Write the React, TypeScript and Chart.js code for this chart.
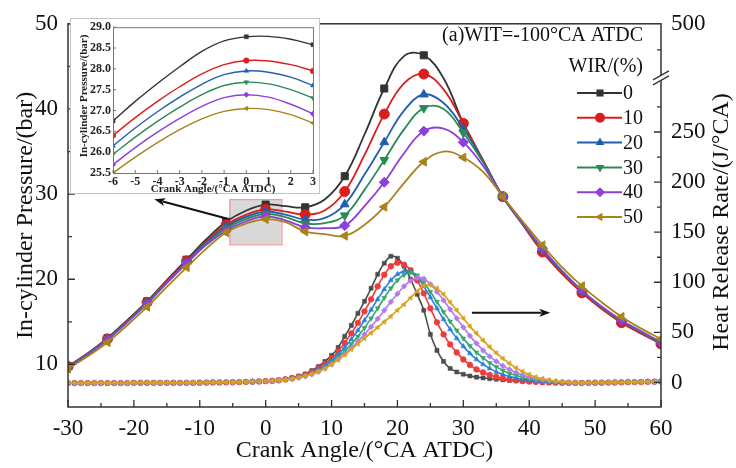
import React, { useEffect, useRef } from 'react';
import { Chart, registerables } from 'chart.js';

Chart.register(...registerables);

const FONT = "'Liberation Serif', 'Times New Roman', Times, serif";

// ---------- categories / ticks ----------
const wirLabels = ['0', '10', '20', '30', '40', '50'];
const xTickValues = [-30, -20, -10, 0, 10, 20, 30, 40, 50, 60];
const xMinorTicks = [-25, -15, -5, 5, 15, 25, 35, 45, 55];
const leftTickValues = [10, 20, 30, 40, 50];
const leftMinorTicks = [15, 25, 35, 45];
const rightTickValues = [0, 50, 100, 150, 200, 250];
const rightMinorTicks = [25, 75, 125, 175, 225, 275, 332];
const rightAxisTop = 358; // broken axis: top of the right axis stands for 500
const rightTopLabel = '500';
const rightBreakValue = 304;
const insetXTicks = [-6, -5, -4, -3, -2, -1, 0, 1, 2, 3];
const insetYTicks = [25.5, 26, 26.5, 27, 27.5, 28, 28.5, 29];

// ---------- in-cylinder pressure (bar), every 3 deg CA ----------
const pressureAngles = [-30, -27, -24, -21, -18, -15, -12, -9, -6, -3, 0, 3, 6, 9, 12, 15, 18, 21, 24, 27, 30, 33, 36, 39, 42, 45, 48, 51, 54, 57, 60];
const pressureWir0 = [9.8, 11.3, 13.1, 15.2, 17.4, 19.9, 22.3, 24.7, 26.75, 28.05, 28.77, 28.58, 28.45, 29.4, 32.1, 37.0, 42.4, 46.2, 46.3, 43.6, 38.3, 33.9, 29.7, 26.5, 23.4, 20.8, 18.5, 16.6, 15.0, 13.7, 12.5];
const pressureWir10 = [9.75, 11.25, 13.0, 15.1, 17.3, 19.8, 22.15, 24.5, 26.4, 27.57, 28.2, 27.95, 27.6, 28.1, 30.3, 34.6, 39.4, 43.0, 44.1, 42.3, 38.3, 34.0, 29.7, 26.4, 23.2, 20.6, 18.4, 16.5, 14.9, 13.6, 12.4];
const pressureWir20 = [9.7, 11.2, 13.0, 15.05, 17.25, 19.7, 22.05, 24.35, 26.15, 27.32, 27.95, 27.6, 27.0, 27.2, 28.8, 32.3, 36.1, 39.8, 41.7, 40.7, 37.7, 33.9, 29.7, 26.5, 23.5, 20.8, 18.6, 16.7, 15.1, 13.8, 12.5];
const pressureWir30 = [9.7, 11.2, 12.95, 15.0, 17.2, 19.65, 21.95, 24.2, 25.95, 27.08, 27.68, 27.3, 26.55, 26.6, 27.5, 30.5, 34.0, 37.6, 40.1, 40.0, 37.2, 33.7, 29.7, 26.5, 23.5, 20.9, 18.6, 16.7, 15.1, 13.8, 12.5];
const pressureWir40 = [9.65, 11.15, 12.9, 14.95, 17.1, 19.55, 21.85, 24.05, 25.7, 26.81, 27.38, 26.92, 26.1, 26.0, 26.3, 28.6, 31.4, 34.8, 37.4, 37.7, 36.1, 33.3, 29.7, 26.6, 23.6, 21.0, 18.7, 16.8, 15.2, 13.9, 12.6];
const pressureWir50 = [9.5, 10.95, 12.6, 14.6, 16.75, 19.1, 21.4, 23.6, 25.5, 26.54, 27.05, 26.7, 25.6, 25.3, 25.1, 26.4, 28.5, 31.3, 33.8, 35.0, 34.3, 32.6, 29.7, 26.8, 24.0, 21.4, 19.2, 17.3, 15.6, 14.2, 13.0];

// ---------- inset (zoom of pressure near TDC) ----------
const insetAngles = [-6, -5, -4, -3, -2, -1, 0, 1, 2, 3];
const insetWir0 = [26.75, 27.22, 27.65, 28.05, 28.42, 28.67, 28.77, 28.78, 28.71, 28.58];
const insetWir10 = [26.4, 26.83, 27.22, 27.57, 27.88, 28.1, 28.2, 28.19, 28.1, 27.95];
const insetWir20 = [26.15, 26.58, 26.97, 27.32, 27.63, 27.86, 27.95, 27.92, 27.8, 27.6];
const insetWir30 = [25.95, 26.36, 26.74, 27.08, 27.38, 27.6, 27.68, 27.64, 27.5, 27.3];
const insetWir40 = [25.7, 26.11, 26.48, 26.81, 27.1, 27.31, 27.38, 27.32, 27.15, 26.92];
const insetWir50 = [25.5, 25.88, 26.23, 26.54, 26.8, 26.98, 27.05, 27.02, 26.9, 26.7];

// ---------- heat release rate (J/deg CA), every 1 deg CA ----------
const hrrAngles = [-30, -29, -28, -27, -26, -25, -24, -23, -22, -21, -20, -19, -18, -17, -16, -15, -14, -13, -12, -11, -10, -9, -8, -7, -6, -5, -4, -3, -2, -1, 0, 1, 2, 3, 4, 5, 6, 7, 8, 9, 10, 11, 12, 13, 14, 15, 16, 17, 18, 19, 20, 21, 22, 23, 24, 25, 26, 27, 28, 29, 30, 31, 32, 33, 34, 35, 36, 37, 38, 39, 40, 41, 42, 43, 44, 45, 46, 47, 48, 49, 50, 51, 52, 53, 54, 55, 56, 57, 58, 59, 60];
// -30 .. 2 (common to all cases)
const hrrLead = [-0.6, -0.6, -0.6, -0.6, -0.6, -0.6, -0.6, -0.6, -0.6, -0.6, -0.4, -0.4, -0.4, -0.4, -0.4, -0.4, -0.4, -0.4, -0.4, -0.4, -0.2, -0.1, 0, 0, 0.1, 0.2, 0.4, 0.6, 0.8, 1.0, 1.3, 1.7, 2.2];
// 3 .. 47
const hrrWir0 = [3.3, 4.6, 6.3, 8.5, 11.8, 16, 21, 27, 35, 46, 57, 69, 81, 94, 108, 119, 126, 124, 116, 103, 88, 72, 48, 32, 21, 14, 10.5, 8.2, 6.5, 5.3, 4.5, 3.8, 3.2, 2.6, 2.1, 1.6, 1.2, 0.8, 0.5, 0.3, 0.1, 0, -0.2, -0.4, -0.5];
const hrrWir10 = [3.1, 4.3, 5.8, 7.8, 10.5, 14, 18.5, 24, 31, 39.5, 49, 59.5, 71, 83, 96, 107.5, 116, 119.5, 117.5, 112, 102, 89, 74, 60, 48, 38, 30, 23, 17.5, 13, 10, 7.5, 5.5, 4, 3, 2.2, 1.5, 1, 0.6, 0.3, 0, -0.2, -0.3, -0.4, -0.5];
const hrrWir20 = [3, 4.1, 5.5, 7.3, 9.6, 12.8, 17, 22, 28, 35, 43, 52, 62, 72.5, 83, 93, 102, 108, 111, 110, 105, 96, 85, 74, 63, 53, 44, 36, 29, 23, 18, 14, 10.5, 8, 6, 4.5, 3.2, 2.2, 1.4, 0.8, 0.3, 0, -0.2, -0.4, -0.5];
const hrrWir30 = [2.9, 3.9, 5.2, 6.9, 9, 11.8, 15.5, 20, 25.5, 31.5, 38.5, 46, 54.5, 64, 74, 84.5, 94, 102, 107.5, 110, 107, 100, 90.5, 80.5, 70.5, 61, 52, 44, 36.5, 30, 24.5, 19.5, 15.5, 12, 9, 7, 5, 3.6, 2.5, 1.6, 1, 0.5, 0, -0.3, -0.5];
const hrrWir40 = [2.7, 3.6, 4.8, 6.2, 8.1, 10.5, 14, 18, 23, 28.5, 34.5, 41, 48, 55.5, 63.5, 72, 80.5, 88.5, 96, 101.5, 104.5, 103.5, 98, 90.5, 82, 73, 64, 55, 46.5, 39, 32, 26, 21, 16.5, 13, 10, 7.5, 5.5, 4, 2.8, 1.8, 1, 0.4, 0, -0.4];
const hrrWir50 = [2.5, 3.5, 4.8, 6.5, 8.6, 11, 14, 18, 22.5, 27.5, 33, 38.5, 44, 49.5, 55, 60.5, 66, 72, 78, 84.5, 91, 96.5, 97.5, 94, 88, 80, 72, 64, 56, 49, 42, 35.5, 29.5, 24, 19, 14.5, 11, 8, 5.5, 3.8, 2.4, 1.4, 0.6, 0, -0.3];
// 48 .. 60 (common)
const hrrTail = [-0.5, -0.4, -0.3, -0.2, -0.1, 0, 0.1, 0.3, 0.4, 0.5, 0.7, 0.8, 1.0];

// ---------- styles ----------
const pressureColors = ['#333333', '#d81e1e', '#1f5fb0', '#2a8a55', '#8c3fd9', '#a8841a'];
const hrrColors = ['#4d4d4d', '#ee3b3b', '#2b7fe0', '#33a86a', '#b07de8', '#d9a21c'];
const pointStyles = ['rect', 'circle', 'triangle', 'triangle', 'rectRot', 'triangle'];
const pointRotations = [0, 0, 0, 180, 0, 270];

const pressureSeries = [pressureWir0, pressureWir10, pressureWir20, pressureWir30, pressureWir40, pressureWir50];
const insetSeries = [insetWir0, insetWir10, insetWir20, insetWir30, insetWir40, insetWir50];
const hrrRises = [hrrWir0, hrrWir10, hrrWir20, hrrWir30, hrrWir40, hrrWir50];
const hrrSeries = hrrRises.map((r) => hrrLead.concat(r, hrrTail));

function drawMarker(ctx: CanvasRenderingContext2D, style: string, rot: number, x: number, y: number, r: number, color: string) {
  ctx.save();
  ctx.translate(x, y);
  ctx.rotate((rot * Math.PI) / 180);
  ctx.fillStyle = color;
  ctx.beginPath();
  if (style === 'rect') {
    const s = r * Math.SQRT2;
    ctx.rect(-s / 2, -s / 2, s, s);
  } else if (style === 'circle') {
    ctx.arc(0, 0, r, 0, Math.PI * 2);
  } else if (style === 'triangle') {
    ctx.moveTo(0, -r);
    ctx.lineTo(r * 0.866, r * 0.5);
    ctx.lineTo(-r * 0.866, r * 0.5);
    ctx.closePath();
  } else {
    ctx.moveTo(0, -r);
    ctx.lineTo(r, 0);
    ctx.lineTo(0, r);
    ctx.lineTo(-r, 0);
    ctx.closePath();
  }
  ctx.fill();
  ctx.restore();
}

function drawArrow(ctx: CanvasRenderingContext2D, x1: number, y1: number, x2: number, y2: number) {
  const ang = Math.atan2(y2 - y1, x2 - x1);
  const hl = 11;
  const hw = 4;
  ctx.save();
  ctx.strokeStyle = '#111';
  ctx.fillStyle = '#111';
  ctx.lineWidth = 2;
  ctx.beginPath();
  ctx.moveTo(x1, y1);
  ctx.lineTo(x2 - Math.cos(ang) * hl * 0.8, y2 - Math.sin(ang) * hl * 0.8);
  ctx.stroke();
  ctx.beginPath();
  ctx.moveTo(x2, y2);
  ctx.lineTo(x2 - Math.cos(ang) * hl - Math.sin(ang) * hw, y2 - Math.sin(ang) * hl + Math.cos(ang) * hw);
  ctx.lineTo(x2 - Math.cos(ang) * hl * 0.75, y2 - Math.sin(ang) * hl * 0.75);
  ctx.lineTo(x2 - Math.cos(ang) * hl + Math.sin(ang) * hw, y2 - Math.sin(ang) * hl - Math.cos(ang) * hw);
  ctx.closePath();
  ctx.fill();
  ctx.restore();
}

const zoomBox = { x0: -5.5, x1: 2.4, y0: 24.1, y1: 29.4 };

const mainDecor = {
  id: 'mainDecor',
  beforeDatasetsDraw(chart: any) {
    const { ctx, scales } = chart;
    const x = scales.x;
    const y = scales.y;
    const px0 = x.getPixelForValue(zoomBox.x0);
    const px1 = x.getPixelForValue(zoomBox.x1);
    const py0 = y.getPixelForValue(zoomBox.y1);
    const py1 = y.getPixelForValue(zoomBox.y0);
    ctx.save();
    ctx.fillStyle = '#d9d9d9';
    ctx.fillRect(px0, py0, px1 - px0, py1 - py0);
    ctx.strokeStyle = '#ee8888';
    ctx.lineWidth = 1;
    ctx.strokeRect(px0 + 0.5, py0 + 0.5, px1 - px0, py1 - py0);
    ctx.restore();
  },
  afterDraw(chart: any) {
    const { ctx, chartArea, scales } = chart;
    const { left, right, top, bottom } = chartArea;
    const x = scales.x;
    const y = scales.y;
    const y1 = scales.y1;
    ctx.save();
    // frame
    ctx.strokeStyle = '#333';
    ctx.lineWidth = 1.5;
    ctx.strokeRect(left, top, right - left, bottom - top);
    // ticks (inward)
    ctx.lineWidth = 1.3;
    ctx.beginPath();
    xTickValues.forEach((v) => { const p = x.getPixelForValue(v); ctx.moveTo(p, bottom); ctx.lineTo(p, bottom - 7); });
    xMinorTicks.forEach((v) => { const p = x.getPixelForValue(v); ctx.moveTo(p, bottom); ctx.lineTo(p, bottom - 4); });
    leftTickValues.forEach((v) => { const p = y.getPixelForValue(v); ctx.moveTo(left, p); ctx.lineTo(left + 7, p); });
    leftMinorTicks.forEach((v) => { const p = y.getPixelForValue(v); ctx.moveTo(left, p); ctx.lineTo(left + 4, p); });
    rightTickValues.forEach((v) => { const p = y1.getPixelForValue(v); ctx.moveTo(right, p); ctx.lineTo(right - 7, p); });
    rightMinorTicks.forEach((v) => { const p = y1.getPixelForValue(v); ctx.moveTo(right, p); ctx.lineTo(right - 4, p); });
    ctx.stroke();
    // axis break on the right axis
    const by = y1.getPixelForValue(rightBreakValue);
    ctx.fillStyle = '#fff';
    ctx.beginPath();
    ctx.moveTo(right - 7, by + 2);
    ctx.lineTo(right + 7, by - 6);
    ctx.lineTo(right + 7, by - 1);
    ctx.lineTo(right - 7, by + 7);
    ctx.closePath();
    ctx.fill();
    ctx.strokeStyle = '#333';
    ctx.lineWidth = 1.3;
    ctx.beginPath();
    ctx.moveTo(right - 8, by + 2);
    ctx.lineTo(right + 8, by - 7);
    ctx.moveTo(right - 8, by + 7);
    ctx.lineTo(right + 8, by - 2);
    ctx.stroke();

    // axis titles
    ctx.fillStyle = '#111';
    ctx.font = `24px ${FONT}`;
    ctx.textAlign = 'center';
    ctx.textBaseline = 'middle';
    ctx.fillText('Crank Angle/(°CA ATDC)', (left + right) / 2, 451);
    ctx.save();
    ctx.translate(26, (top + bottom) / 2);
    ctx.rotate(-Math.PI / 2);
    ctx.fillText('In-cylinder Pressure/(bar)', 0, 0);
    ctx.restore();
    ctx.save();
    ctx.translate(722, 222);
    ctx.rotate(-Math.PI / 2);
    ctx.fillText('Heat Release Rate/(J/°CA)', 0, 0);
    ctx.restore();

    // annotation text
    ctx.font = `20px ${FONT}`;
    ctx.textAlign = 'right';
    ctx.fillText('(a)WIT=-100°CA ATDC', 643, 36);
    ctx.fillText('WIR/(%)', 643, 67);

    // legend
    ctx.textAlign = 'left';
    wirLabels.forEach((lab, i) => {
      const ly = 93 + i * 24.8;
      ctx.strokeStyle = pressureColors[i];
      ctx.lineWidth = 2;
      ctx.beginPath();
      ctx.moveTo(577, ly);
      ctx.lineTo(622, ly);
      ctx.stroke();
      drawMarker(ctx, pointStyles[i], pointRotations[i], 600, ly, 5, pressureColors[i]);
      ctx.fillStyle = '#111';
      ctx.fillText(lab, 623, ly + 1);
    });

    // arrows
    drawArrow(ctx, x.getPixelForValue(-5.8), y.getPixelForValue(27.1), x.getPixelForValue(-16.9), y.getPixelForValue(29.4));
    drawArrow(ctx, x.getPixelForValue(31.3), y1.getPixelForValue(69.6), x.getPixelForValue(43.2), y1.getPixelForValue(69.6));
    ctx.restore();
  },
};

const insetDecor = {
  id: 'insetDecor',
  beforeDraw(chart: any) {
    const { ctx, width, height } = chart;
    ctx.save();
    ctx.fillStyle = '#fff';
    ctx.fillRect(0, 0, width, height);
    ctx.strokeStyle = '#c4c4c4';
    ctx.lineWidth = 1;
    ctx.strokeRect(0.5, 0.5, width - 1, height - 1);
    ctx.restore();
  },
  afterDraw(chart: any) {
    const { ctx, chartArea, scales } = chart;
    const { left, right, top, bottom } = chartArea;
    ctx.save();
    ctx.strokeStyle = '#777';
    ctx.lineWidth = 1;
    ctx.strokeRect(left + 0.5, top + 0.5, right - left, bottom - top);
    ctx.beginPath();
    insetXTicks.forEach((v) => { const p = scales.x.getPixelForValue(v); ctx.moveTo(p, bottom); ctx.lineTo(p, bottom - 3); });
    insetYTicks.forEach((v) => { const p = scales.y.getPixelForValue(v); ctx.moveTo(left, p); ctx.lineTo(left + 3, p); });
    ctx.stroke();
    ctx.fillStyle = '#222';
    ctx.font = `bold 11px ${FONT}`;
    ctx.textAlign = 'center';
    ctx.textBaseline = 'middle';
    ctx.fillText('Crank Angle/(°CA ATDC)', (left + right) / 2, 171);
    ctx.translate(14, 78);
    ctx.rotate(-Math.PI / 2);
    ctx.fillText('In-cylinder Pressure/(bar)', 0, 0);
    ctx.restore();
  },
};

function tickFont(size: number, weight?: string) {
  return { family: FONT, size, weight: weight as any };
}

export default function App() {
  const mainRef = useRef<HTMLCanvasElement>(null);
  const insetRef = useRef<HTMLCanvasElement>(null);

  useEffect(() => {
    const datasets: any[] = [];
    pressureSeries.forEach((vals, i) => {
      datasets.push({
        label: 'Pressure WIR ' + wirLabels[i],
        yAxisID: 'y',
        data: pressureAngles.map((a, k) => ({ x: a, y: vals[k] })),
        borderColor: pressureColors[i],
        backgroundColor: pressureColors[i],
        borderWidth: 1.8,
        tension: 0.4,
        pointStyle: pointStyles[i],
        pointRotation: pointRotations[i],
        pointRadius: pressureAngles.map((a) => (a % 6 === 0 ? 5 : 0)),
        pointBackgroundColor: pressureColors[i],
        pointBorderColor: pressureColors[i],
        pointBorderWidth: 1,
        order: 11 - i,
      });
    });
    hrrSeries.forEach((vals, i) => {
      datasets.push({
        label: 'HRR WIR ' + wirLabels[i],
        yAxisID: 'y1',
        data: hrrAngles.map((a, k) => ({ x: a, y: vals[k] })),
        borderColor: hrrColors[i],
        backgroundColor: hrrColors[i],
        borderWidth: 1.6,
        tension: 0.3,
        pointStyle: pointStyles[i],
        pointRotation: pointRotations[i],
        pointRadius: 2.9,
        pointBackgroundColor: hrrColors[i],
        pointBorderColor: hrrColors[i],
        pointBorderWidth: 0.5,
        order: 5 - i,
      });
    });

    const main = new Chart(mainRef.current as HTMLCanvasElement, {
      type: 'line',
      data: { datasets },
      plugins: [mainDecor],
      options: {
        animation: false,
        responsive: false,
        devicePixelRatio: 1,
        layout: { padding: { top: 17, left: 0, right: 0, bottom: 0 } },
        plugins: { legend: { display: false }, tooltip: { enabled: false } },
        scales: {
          x: {
            type: 'linear',
            min: -30,
            max: 60,
            afterBuildTicks: (s: any) => { s.ticks = xTickValues.map((v) => ({ value: v })); },
            afterFit: (s: any) => { s.height = 61; },
            grid: { display: false, drawTicks: false },
            border: { display: false },
            ticks: { font: tickFont(23), color: '#111', padding: 8, maxRotation: 0, autoSkip: false },
          },
          y: {
            type: 'linear',
            position: 'left',
            min: 5,
            max: 50,
            afterBuildTicks: (s: any) => { s.ticks = leftTickValues.map((v) => ({ value: v })); },
            afterFit: (s: any) => { s.width = 68; },
            grid: { display: false, drawTicks: false },
            border: { display: false },
            ticks: { font: tickFont(23), color: '#111', padding: 10, autoSkip: false },
          },
          y1: {
            type: 'linear',
            position: 'right',
            min: -24.5,
            max: rightAxisTop,
            afterBuildTicks: (s: any) => { s.ticks = rightTickValues.concat([rightAxisTop]).map((v) => ({ value: v })); },
            afterFit: (s: any) => { s.width = 75; },
            grid: { display: false, drawTicks: false },
            border: { display: false },
            ticks: {
              font: tickFont(23),
              color: '#111',
              padding: 10,
              autoSkip: false,
              callback: (v: any) => (v === rightAxisTop ? rightTopLabel : String(v)),
            },
          },
        },
      } as any,
    });

    const inset = new Chart(insetRef.current as HTMLCanvasElement, {
      type: 'line',
      data: {
        datasets: insetSeries.map((vals, i) => ({
          label: 'Inset WIR ' + wirLabels[i],
          data: insetAngles.map((a, k) => ({ x: a, y: vals[k] })),
          borderColor: pressureColors[i],
          backgroundColor: pressureColors[i],
          borderWidth: 1.4,
          tension: 0.4,
          pointStyle: pointStyles[i],
          pointRotation: pointRotations[i],
          pointRadius: insetAngles.map((a) => (a === 0 || a === 3 || a === -6 ? 2.8 : 0)),
          pointBackgroundColor: pressureColors[i],
          pointBorderColor: pressureColors[i],
          pointBorderWidth: 0.5,
          order: 5 - i,
        })),
      },
      plugins: [insetDecor],
      options: {
        animation: false,
        responsive: false,
        devicePixelRatio: 1,
        layout: { padding: { top: 9, right: 7, left: 0, bottom: 0 } },
        plugins: { legend: { display: false }, tooltip: { enabled: false } },
        scales: {
          x: {
            type: 'linear',
            min: -6,
            max: 3,
            afterBuildTicks: (s: any) => { s.ticks = insetXTicks.map((v) => ({ value: v })); },
            afterFit: (s: any) => { s.height = 21; },
            grid: { display: false, drawTicks: false },
            border: { display: false },
            ticks: { font: tickFont(12, 'bold'), color: '#222', padding: 2, maxRotation: 0, autoSkip: false },
          },
          y: {
            type: 'linear',
            min: 25.5,
            max: 29,
            afterBuildTicks: (s: any) => { s.ticks = insetYTicks.map((v) => ({ value: v })); },
            afterFit: (s: any) => { s.width = 43; },
            grid: { display: false, drawTicks: false },
            border: { display: false },
            ticks: {
              font: tickFont(12, 'bold'),
              color: '#222',
              padding: 2,
              autoSkip: false,
              callback: (v: any) => Number(v).toFixed(1),
            },
          },
        },
      } as any,
    });

    return () => {
      main.destroy();
      inset.destroy();
    };
  }, []);

  return (
    <div style={{ position: 'absolute', left: 0, top: 0, width: 736, height: 468, background: '#fff' }}>
      <canvas ref={mainRef} width={736} height={468} style={{ position: 'absolute', left: 0, top: 0, width: 736, height: 468 }} />
      <canvas ref={insetRef} width={250} height={176} style={{ position: 'absolute', left: 70, top: 18, width: 250, height: 176 }} />
    </div>
  );
}
